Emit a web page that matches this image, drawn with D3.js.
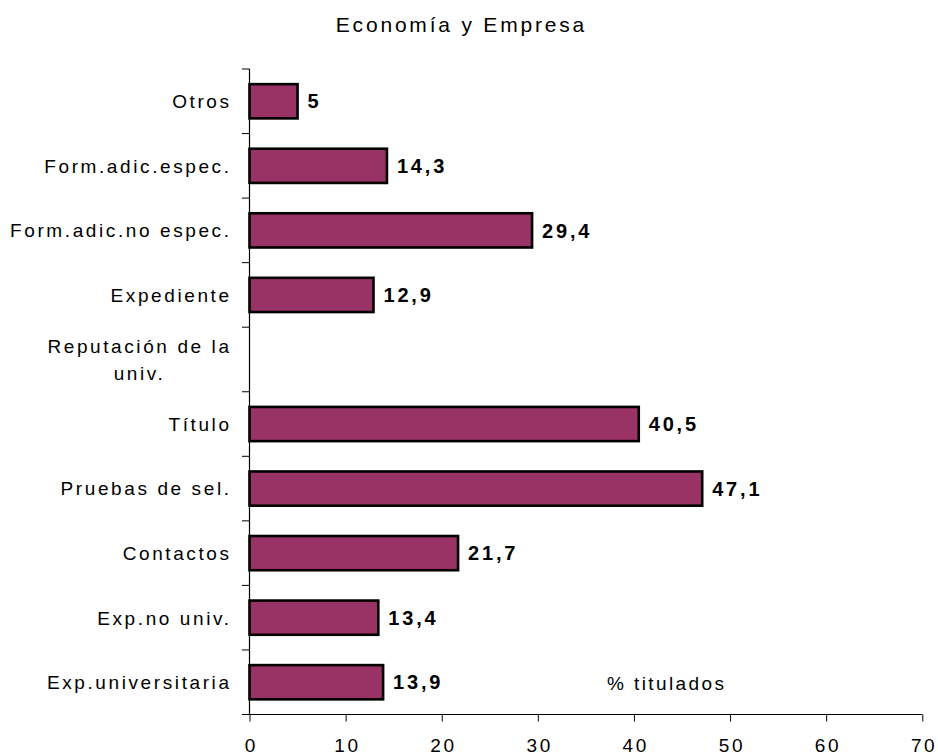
<!DOCTYPE html>
<html>
<head>
<meta charset="utf-8">
<script src="https://cdn.jsdelivr.net/npm/d3@7/dist/d3.min.js"></script>
<style>
  html, body { margin: 0; padding: 0; background: #fff; }
  text { font-family: "Liberation Sans", Arial, sans-serif; fill: #000; }
</style>
</head>
<body>
<svg id="chart" width="938" height="756"></svg>
<script>
const title = "Economía y Empresa";
const axisLabel = "% titulados";
const categories = ["Otros", "Form.adic.espec.", "Form.adic.no espec.", "Expediente",
  "Reputación de la univ.", "Título", "Pruebas de sel.", "Contactos", "Exp.no univ.", "Exp.universitaria"];
const values = [5, 14.3, 29.4, 12.9, null, 40.5, 47.1, 21.7, 13.4, 13.9];
const xTicks = [0, 10, 20, 30, 40, 50, 60, 70];

const svg = d3.select("#chart");
const plotLeft = 249.5, plotRight = 922.3, plotTop = 69, plotBottom = 714.5;
const LS = 2.6;
const FS = 19;

const x = d3.scaleLinear().domain([0, 70]).range([plotLeft, plotRight]);
const y = d3.scaleBand().domain(categories).range([plotTop, plotBottom])
  .paddingInner(0.47).paddingOuter(0.235);

// Title
svg.append("text")
  .attr("x", 460 + 1.4).attr("y", 32)
  .attr("text-anchor", "middle")
  .style("font-size", "21px").style("letter-spacing", "2.8px")
  .text(title);

// Bars
const data = categories.map((c, i) => ({ c, v: values[i] })).filter(d => d.v != null);
svg.append("g").selectAll("rect").data(data).join("rect")
  .attr("x", x(0))
  .attr("y", d => y(d.c))
  .attr("width", d => x(d.v) - x(0))
  .attr("height", y.bandwidth())
  .attr("fill", "#993366")
  .attr("stroke", "#000")
  .attr("stroke-width", 2.6);

// Value labels
const fmt = v => d3.format(".1~f")(v).replace(".", ",");
svg.append("g").selectAll("text").data(data).join("text")
  .attr("x", d => x(d.v) + 10)
  .attr("y", d => y(d.c) + y.bandwidth() / 2)
  .attr("dy", "0.36em")
  .style("font-size", "20px").style("font-weight", "bold").style("letter-spacing", "2.8px")
  .text(d => fmt(d.v));

// Y axis line and ticks at band boundaries
const step = y.step();
const yAxis = svg.append("g");
yAxis.append("line")
  .attr("x1", plotLeft).attr("x2", plotLeft).attr("y1", plotTop).attr("y2", plotBottom)
  .attr("stroke", "#000").attr("stroke-width", 1.2);
yAxis.selectAll("line.tick").data(d3.range(categories.length + 1)).join("line")
  .attr("class", "tick")
  .attr("x1", plotLeft - 7.5).attr("x2", plotLeft)
  .attr("y1", i => plotTop + i * step).attr("y2", i => plotTop + i * step)
  .attr("stroke", "#000").attr("stroke-width", 1);

// Category labels (wrapped if too long)
const labelRight = 229;
const catG = svg.append("g");
categories.forEach(c => {
  const cy = y(c) + y.bandwidth() / 2;
  const t = catG.append("text")
    .style("font-size", FS + "px").style("letter-spacing", LS + "px")
    .text(c);
  const w = t.node().getComputedTextLength();
  if (w > 232) {
    t.remove();
    const words = c.split(" ");
    const lines = [words.slice(0, -1).join(" "), words[words.length - 1]];
    const g = catG.append("g");
    const texts = lines.map((ln, k) => g.append("text")
      .style("font-size", FS + "px").style("letter-spacing", LS + "px")
      .attr("text-anchor", "middle")
      .attr("y", cy + (k - (lines.length - 1) / 2) * 27)
      .attr("dy", "0.36em")
      .text(ln));
    const maxW = d3.max(texts, tt => tt.node().getComputedTextLength()) - LS;
    const cx = labelRight - maxW / 2 + LS / 2;
    texts.forEach(tt => tt.attr("x", cx));
  } else {
    t.attr("x", labelRight + LS).attr("y", cy).attr("dy", "0.36em")
      .attr("text-anchor", "end");
  }
});

// X axis
const xAxis = svg.append("g")
  .attr("transform", `translate(0,${plotBottom})`)
  .call(d3.axisBottom(x).tickValues(xTicks).tickSizeOuter(0).tickSize(7).tickPadding(17).tickFormat(d3.format("d")));
xAxis.select(".domain").attr("stroke", "#000").attr("stroke-width", 1.2)
  .attr("d", `M${plotLeft - 7.5},0H${plotRight}`);
xAxis.selectAll(".tick line").attr("stroke", "#000").attr("stroke-width", 1);
xAxis.selectAll(".tick text")
  .attr("fill", "#000")
  .attr("dx", LS / 2)
  .style("font-family", "'Liberation Sans', Arial, sans-serif")
  .style("font-size", FS + "px").style("letter-spacing", LS + "px");

// Axis title
svg.append("text")
  .attr("x", 607).attr("y", 690)
  .style("font-size", FS + "px").style("letter-spacing", "2.4px")
  .text(axisLabel);
</script>
</body>
</html>
